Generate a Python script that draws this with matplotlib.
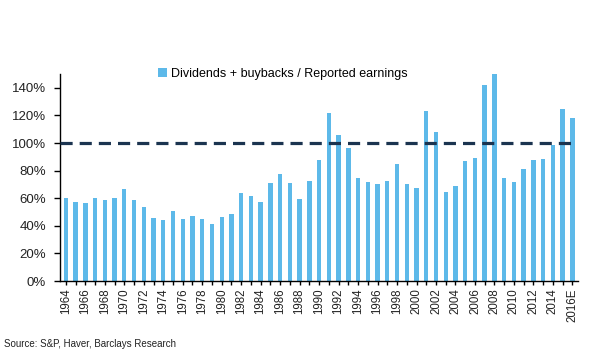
import matplotlib
matplotlib.use("Agg")
import matplotlib.pyplot as plt
import numpy as np

years = [str(y) for y in range(1964, 2016)] + ["2016E"]
values = [60.3, 57.4, 56.4, 60.0, 58.4, 60.0, 67.0, 59.0, 53.8, 45.5,
          44.3, 50.6, 44.8, 47.2, 45.0, 41.6, 46.5, 48.9, 63.9, 61.7,
          57.4, 70.9, 77.7, 70.9, 59.3, 72.2, 87.7, 121.8, 106.0, 96.6,
          74.6, 71.9, 70.0, 72.6, 85.0, 70.0, 67.3, 123.0, 108.2, 64.4,
          69.2, 86.7, 89.1, 141.9, 149.9, 74.3, 71.7, 81.4, 87.4, 88.1,
          98.8, 124.7, 118.2]
threshold = 100
series_label = "Dividends + buybacks / Reported earnings"
source = "Source: S&P, Haver, Barclays Research"

plt.rcParams["font.family"] = ["Liberation Sans", "DejaVu Sans"]

fig = plt.figure(figsize=(5.9, 3.59), dpi=100)
ax = fig.add_axes([0.1017, 0.217, 0.8783, 0.577])
x = np.arange(len(values))
ax.bar(x, values, width=0.45, color="#5DB9E9", label=series_label, zorder=2)
ax.axhline(threshold, color="#1B3450", lw=2.3, linestyle=(0, (3.8, 2.2)), zorder=3)

ax.set_xlim(-0.6, len(values) - 0.4)
ax.set_ylim(0, 150)
ax.set_yticks(np.arange(0, 141, 20))
ax.set_yticklabels([f"{v}%" for v in range(0, 141, 20)], fontsize=9.5, color="#222222")
ax.set_xticks(x)
ax.set_xticklabels([y if i % 2 == 0 or i == len(years) - 1 else "" for i, y in enumerate(years)],
                   rotation=90, fontsize=8.3, color="#222222")
ax.tick_params(axis="x", direction="out", length=3, width=1, color="black", pad=2)
ax.tick_params(axis="y", direction="out", length=4, width=1, color="black", pad=6)
for s in ["top", "right"]:
    ax.spines[s].set_visible(False)
for s in ["left", "bottom"]:
    ax.spines[s].set_color("black")
    ax.spines[s].set_linewidth(1)

leg = ax.legend(loc="center", bbox_to_anchor=(0.43, 1.0), frameon=False,
                fontsize=9, handlelength=0.7, handleheight=0.7, handletextpad=0.3)
fig.text(0.006, 0.033, source, fontsize=7, color="#222222")
fig.savefig("out.png", dpi=100, facecolor="white")
